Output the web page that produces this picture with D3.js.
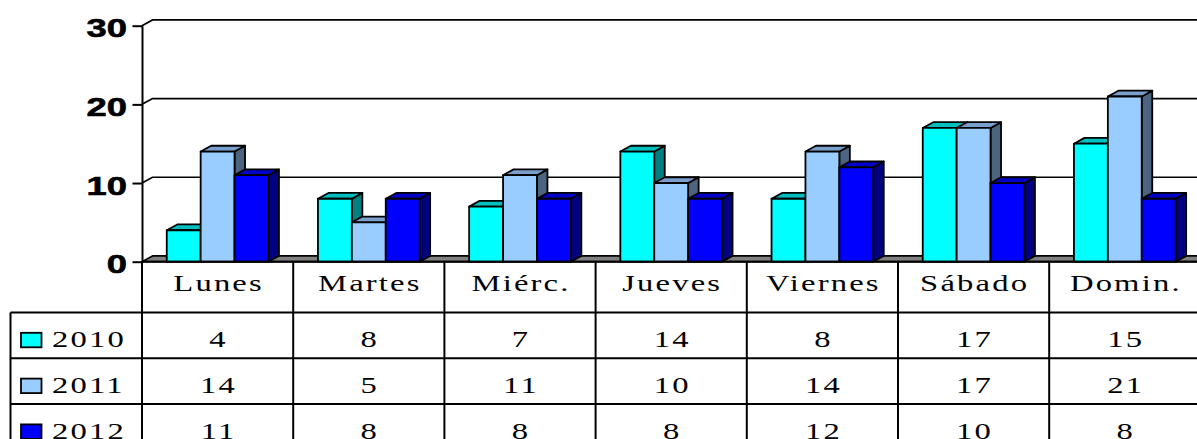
<!DOCTYPE html>
<html>
<head>
<meta charset="utf-8">
<script src="https://cdn.jsdelivr.net/npm/d3@7"></script>
<style>
  html, body { margin: 0; padding: 0; background: #fff; overflow: hidden; }
  svg { display: block; }
</style>
</head>
<body>
<svg id="chart" width="1197" height="439"></svg>
<script>
const categories = ["Lunes", "Martes", "Miérc.", "Jueves", "Viernes", "Sábado", "Domin."];
const seriesNames = ["2010", "2011", "2012"];
const values2010 = [4, 8, 7, 14, 8, 17, 15];
const values2011 = [14, 5, 11, 10, 14, 17, 21];
const values2012 = [11, 8, 8, 8, 12, 10, 8];
const yTicks = [0, 10, 20, 30];

const seriesValues = [values2010, values2011, values2012];
const frontColors = ["#00FFFF", "#99CCFF", "#0000FF"];
const topColors = ["#00BFBF", "#7A9FCC", "#0000C8"];
const sideColors = ["#008080", "#4D6480", "#000080"];

const svg = d3.select("#chart");
const W = 1197, H = 439;
const left = 142, bandW = 151.2;
const DX = 10.5, DY = -5.8;

const x = d3.scaleBand().domain(categories).range([left, left + bandW * categories.length]).padding(0);
const xs = d3.scaleBand().domain(seriesNames).range([0, x.bandwidth()]).paddingInner(0).paddingOuter(0.73);
const y = d3.scaleLinear().domain([0, 30]).range([261.7, 25.7]);
const y0 = y(0);
const right = left + bandW * categories.length;

// gridlines on back wall
const grid = svg.append("g");
yTicks.filter(t => t > 0).forEach(t => {
  grid.append("path")
    .attr("d", `M${left},${y(t)} L${left + DX},${y(t) + DY} L${right + DX + 20},${y(t) + DY}`)
    .attr("fill", "none").attr("stroke", "#000").attr("stroke-width", 1.7);
});

// floor
svg.append("path")
  .attr("d", `M${left},${y0} L${left + DX},${y0 + DY} L${right + DX + 20},${y0 + DY} L${right + 20},${y0} Z`)
  .attr("fill", "#808080").attr("stroke", "#000").attr("stroke-width", 1.7).attr("stroke-linejoin", "round");

// bars
const bars = svg.append("g");
categories.forEach((c, ci) => {
  seriesNames.forEach((s, si) => {
    const v = seriesValues[si][ci];
    const bx = x(c) + xs(s);
    const w = xs.bandwidth();
    const yv = y(v);
    const g = bars.append("g").attr("stroke", "#000").attr("stroke-width", 1.8).attr("stroke-linejoin", "round");
    g.append("path")
      .attr("d", `M${bx + w},${yv} L${bx + w + DX},${yv + DY} L${bx + w + DX},${y0 + DY} L${bx + w},${y0} Z`)
      .attr("fill", sideColors[si]);
    g.append("path")
      .attr("d", `M${bx},${yv} L${bx + DX},${yv + DY} L${bx + w + DX},${yv + DY} L${bx + w},${yv} Z`)
      .attr("fill", topColors[si]);
    g.append("rect")
      .attr("x", bx).attr("y", yv).attr("width", w).attr("height", y0 - yv)
      .attr("fill", frontColors[si]);
  });
});

// y axis
const axis = svg.append("g").attr("transform", `translate(${left},0)`)
  .call(d3.axisLeft(y).tickValues(yTicks).tickSize(9.5).tickSizeOuter(0).tickFormat(d3.format("d")));
axis.select(".domain").attr("stroke", "#000").attr("stroke-width", 2);
axis.selectAll(".tick line").attr("stroke", "#000").attr("stroke-width", 2);
const sxY = 1.4;
axis.selectAll(".tick text")
  .attr("fill", "#000")
  .attr("stroke", "#000")
  .attr("stroke-width", 0.6)
  .attr("font-family", "'Liberation Sans', Arial, sans-serif")
  .attr("font-weight", "bold")
  .attr("font-size", 26)
  .attr("text-anchor", "end")
  .attr("dy", null)
  .attr("x", -15 / sxY)
  .attr("y", 11)
  .attr("transform", `scale(${sxY},1)`);

// table
const rowY = d3.scaleBand().domain(seriesNames).range([312.5, 312.5 + 3 * 45.8]);
const table = svg.append("g").attr("stroke", "#000").attr("stroke-width", 2);
table.append("line").attr("x1", left).attr("x2", W + 5).attr("y1", y0).attr("y2", y0);
d3.range(categories.length + 1).forEach(i => {
  const xx = left + bandW * i;
  table.append("line").attr("x1", xx).attr("x2", xx).attr("y1", y0).attr("y2", H + 5);
});
table.append("line").attr("x1", 10.5).attr("x2", 10.5).attr("y1", rowY("2010")).attr("y2", H + 5);
seriesNames.forEach(s => {
  table.append("line").attr("x1", 10.5).attr("x2", W + 5).attr("y1", rowY(s)).attr("y2", rowY(s));
});

const sxT = 1.45;
const serif = "'Liberation Serif', 'Times New Roman', serif";
function addText(parent, txt, tx, ty, anchor) {
  parent.append("text")
    .attr("transform", `translate(${tx},${ty}) scale(${sxT},1)`)
    .attr("text-anchor", anchor)
    .attr("font-family", serif)
    .attr("font-size", 22.5)
    .attr("letter-spacing", "1.5px")
    .attr("fill", "#000")
    .text(txt);
}
const texts = svg.append("g");
categories.forEach(c => {
  addText(texts, c, x(c) + x.bandwidth() / 2 + 1, 290.7, "middle");
});
seriesNames.forEach((s, si) => {
  const top = rowY(s);
  texts.append("rect")
    .attr("x", 21).attr("y", top + 20.3).attr("width", 20.5).attr("height", 14.5)
    .attr("fill", frontColors[si]).attr("stroke", "#000").attr("stroke-width", 1.8);
  addText(texts, s, 52, top + 34.8, "start");
  categories.forEach((c, ci) => {
    addText(texts, String(seriesValues[si][ci]), x(c) + x.bandwidth() / 2 + 1, top + 34.8, "middle");
  });
});
</script>
</body>
</html>
